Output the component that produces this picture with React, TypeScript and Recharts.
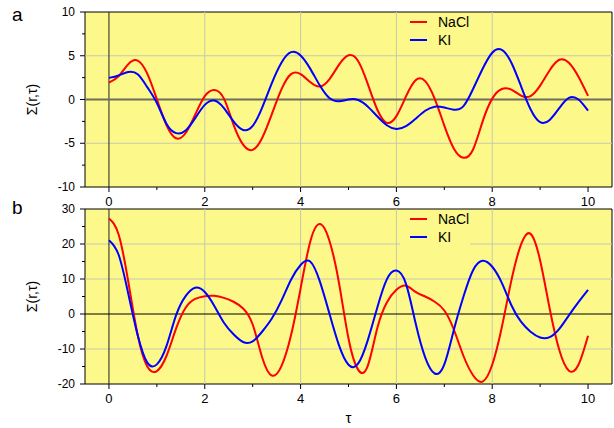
import React from 'react';
import {
  LineChart,
  Line,
  XAxis,
  YAxis,
  CartesianGrid,
  ReferenceLine,
  ReferenceArea,
  Legend
} from 'recharts';

// sample points along tau (every 0.2)
const tau = [
  0, 0.2, 0.4, 0.6, 0.8, 1, 1.2, 1.4, 1.6, 1.8, 2, 2.2, 2.4, 2.6, 2.8, 3, 3.2, 3.4, 3.6, 3.8,
  4, 4.2, 4.4, 4.6, 4.8, 5, 5.2, 5.4, 5.6, 5.8, 6, 6.2, 6.4, 6.6, 6.8, 7, 7.2, 7.4, 7.6, 7.8,
  8, 8.2, 8.4, 8.6, 8.8, 9, 9.2, 9.4, 9.6, 9.8, 10
];

// panel a
const naclA = [
  1.93, 2.66, 4.02, 4.45, 2.95, 0.02, -2.92, -4.43, -3.83, -1.74, 0.38, 1.08, 0.1, -2.87, -5.16,
  -5.75, -4.37, -1.68, 1.15, 2.9, 2.91, 1.99, 1.48, 2.31, 3.96, 5.05, 4.41, 1.82, -1.14, -2.67,
  -1.9, 0.35, 2.2, 2.1, 0.07, -2.98, -5.62, -6.66, -5.71, -2.5, 0.1, 1.2, 1.13, 0.45, 0.39, 1.58,
  3.35, 4.54, 4.2, 2.6, 0.42
];
const kiA = [
  2.47, 2.74, 3.14, 2.88, 1.41, -0.4, -2.76, -3.84, -3.55, -2.13, -0.61, -0.12, -0.98, -2.5,
  -3.48, -3.02, -0.9, 1.88, 4.21, 5.41, 5.03, 3.53, 1.62, 0.17, -0.2, 0.0, -0.05, -0.79, -1.92,
  -2.94, -3.37, -3.05, -2.2, -1.29, -0.82, -0.92, -1.16, -0.75, 1.2, 3.51, 5.34, 5.67, 4.2, 1.54,
  -1.11, -2.59, -2.33, -0.98, 0.19, 0.0, -1.28
];

// panel b
const naclB = [
  27.3, 22.8, 9.5, -6.0, -15.0, -16.3, -12.0, -4.2, 1.8, 4.3, 5.1, 5.2, 4.6, 3.5, 1.6, -3.0,
  -12.5, -17.6, -14.9, -6.1, 7.3, 20.6, 25.7, 21.0, 9.0, -7.0, -15.9, -14.9, -4.1, 3.3, 6.9, 8.1,
  6.3, 5.0, 3.5, 1.0, -4.5, -12.0, -17.5, -19.3, -14.5, -3.8, 9.6, 19.8, 22.9, 15.3, 1.5, -10.3,
  -16.2, -14.5, -6.2
];
const kiB = [
  21.1, 17.0, 6.0, -6.1, -13.9, -14.4, -9.2, -0.4, 5.1, 7.5, 6.3, 2.3, -2.5, -5.8, -8.0, -7.8,
  -5.0, -1.3, 3.8, 9.8, 14.0, 15.0, 9.4, 0.2, -8.9, -14.5, -14.2, -7.6, 1.8, 9.9, 12.4, 8.6, -2.6,
  -12.4, -17.0, -14.4, -4.5, 5.0, 12.5, 15.2, 13.5, 8.9, 2.5, -2.2, -5.05, -6.7, -6.6, -4.25,
  -0.4, 3.4, 6.9
];

const xTicks = [0, 1, 2, 3, 4, 5, 6, 7, 8, 9, 10];
const xGrid = [2, 4, 6, 8];
const yTicksA = [-10, -7.5, -5, -2.5, 0, 2.5, 5, 7.5, 10];
const yGridA = [-5, 5];
const yTicksB = [-20, -15, -10, -5, 0, 5, 10, 15, 20, 25, 30];
const yGridB = [-10, 10, 20];

const RED = '#ff0000';
const BLUE = '#0000ff';
const BG = '#fcf88a';
const GRID = '#c8c8b0';
const FONT = '"Liberation Sans", Arial, sans-serif';

const XTick = (props: any) => {
  const { x, y, payload } = props;
  const major = payload.value % 2 === 0;
  return (
    <g>
      <line x1={x} x2={x} y1={y} y2={y + (major ? 5 : 3)} stroke="#000" />
      {major && (
        <text x={x} y={y + 19} textAnchor="middle" fontSize={13} fontFamily={FONT} fill="#000">
          {payload.value}
        </text>
      )}
    </g>
  );
};

const makeYTick = (step: number) => (props: any) => {
  const { x, y, payload } = props;
  const major = Math.abs(payload.value % step) < 1e-9;
  return (
    <g>
      <line x1={x} x2={x - (major ? 5 : 3)} y1={y} y2={y} stroke="#000" />
      {major && (
        <text x={x - 10} y={y} dy={4} textAnchor="end" fontSize={12} fontFamily={FONT} fill="#000">
          {payload.value}
        </text>
      )}
    </g>
  );
};

const LegendBox = () => (
  <div style={{ fontFamily: FONT, fontSize: 14, lineHeight: '18px', color: '#000' }}>
    {[
      { name: 'NaCl', color: RED },
      { name: 'KI', color: BLUE }
    ].map(s => (
      <div key={s.name} style={{ display: 'flex', alignItems: 'center', height: 18 }}>
        <svg width={17} height={18}>
          <line x1={0} x2={17} y1={9} y2={9} stroke={s.color} strokeWidth={2} />
        </svg>
        <span style={{ marginLeft: 11 }}>{s.name}</span>
      </div>
    ))}
  </div>
);

interface PanelProps {
  nacl: number[];
  ki: number[];
  yDomain: [number, number];
  yTicks: number[];
  yStep: number;
  yGrid: number[];
  height: number;
  top: number;
  xAxisHeight: number;
  zeroColor: string;
  zeroWidth: number;
  legendTop: number;
  legendPad: string;
  showTauLabel?: boolean;
}

const Panel: React.FC<PanelProps> = ({
  nacl, ki, yDomain, yTicks, yStep, yGrid, height, top, xAxisHeight,
  zeroColor, zeroWidth, legendTop, legendPad, showTauLabel
}) => {
  const data = tau.map((t, i) => ({ tau: t, NaCl: nacl[i], KI: ki[i] }));
  return (
    <div style={{ position: 'absolute', left: 0, top }}>
      <LineChart width={614} height={height} data={data} margin={{ top: top === 0 ? 12 : 9, right: 2, bottom: 0, left: 0 }}>
        <CartesianGrid horizontal={false} vertical={false} fill={BG} fillOpacity={1} />
        {xGrid.map(v => (
          <ReferenceLine key={'x' + v} x={v} stroke={GRID} strokeWidth={1} />
        ))}
        {yGrid.map(v => (
          <ReferenceLine key={'y' + v} y={v} stroke={GRID} strokeWidth={1} />
        ))}
        <ReferenceLine x={0} stroke="#222" strokeWidth={1} />
        <ReferenceLine y={0} stroke={zeroColor} strokeWidth={zeroWidth} />
        <XAxis
          dataKey="tau"
          type="number"
          domain={[-0.5, 10.5]}
          ticks={xTicks}
          interval={0}
          height={xAxisHeight}
          tickSize={0}
          tickMargin={0}
          tickLine={false}
          axisLine={false}
          tick={<XTick />}
          label={showTauLabel ? { value: 'τ', position: 'insideBottom', offset: 5, fontSize: 15, fontFamily: FONT, fill: '#000' } : undefined}
        />
        <YAxis
          type="number"
          domain={yDomain}
          ticks={yTicks}
          interval={0}
          width={85}
          tickSize={0}
          tickMargin={0}
          tickLine={false}
          axisLine={false}
          tick={makeYTick(yStep)}
          allowDataOverflow
          label={{ value: 'Σ(r,τ)', angle: -90, position: 'insideLeft', offset: 32, textAnchor: 'middle', fontSize: 14, fontFamily: FONT, fill: '#000' }}
        />
        <Line type="natural" dataKey="NaCl" stroke={RED} strokeWidth={2} dot={false} isAnimationActive={false} />
        <Line type="natural" dataKey="KI" stroke={BLUE} strokeWidth={2} dot={false} isAnimationActive={false} />
        <ReferenceArea x1={-0.5} x2={10.5} y1={yDomain[0]} y2={yDomain[1]} fill="none" stroke="#000" strokeWidth={1} />
        <Legend
          layout="vertical"
          align="center"
          verticalAlign="middle"
          content={<LegendBox />}
          wrapperStyle={{ left: 400, top: legendTop, width: 70, padding: legendPad, background: BG, boxSizing: 'border-box' }}
        />
      </LineChart>
    </div>
  );
};

export default function App() {
  return (
    <div style={{ position: 'absolute', left: 0, top: 0, width: 614, height: 428, background: '#fff', overflow: 'hidden' }}>
      <Panel
        nacl={naclA}
        ki={kiA}
        yDomain={[-10, 10]}
        yTicks={yTicksA}
        yStep={5}
        yGrid={yGridA}
        height={210}
        top={0}
        xAxisHeight={23}
        zeroColor="#6c6c60"
        zeroWidth={1.8}
        legendTop={13}
        legendPad="0 0 0 10px"
      />
      <Panel
        nacl={naclB}
        ki={kiB}
        yDomain={[-20, 30]}
        yTicks={yTicksB}
        yStep={10}
        yGrid={yGridB}
        height={228}
        top={200}
        xAxisHeight={44}
        zeroColor="#000"
        zeroWidth={1}
        legendTop={10}
        legendPad="0 0 6px 10px"
        showTauLabel
      />
      <div style={{ position: 'absolute', left: 12, top: 4, fontFamily: FONT, fontSize: 19 }}>a</div>
      <div style={{ position: 'absolute', left: 12, top: 197, fontFamily: FONT, fontSize: 19 }}>b</div>
    </div>
  );
}
